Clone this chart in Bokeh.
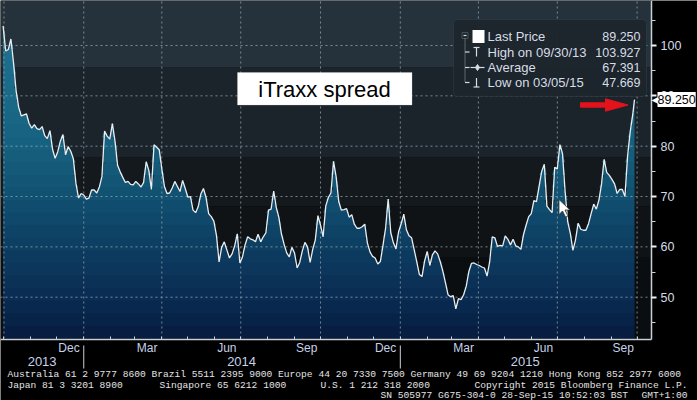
import numpy as np
import pandas as pd
from bokeh.plotting import figure
from bokeh.models import (FixedTicker, DatetimeTickFormatter, DatetimeAxis, LinearAxis, Label,
                          BoxAnnotation, Range1d)
from bokeh.embed import file_html
from bokeh.resources import INLINE

# ---------------- data ----------------
START_DATE = "2013-09-30"      # first observation, then every 3 days
STEP = "3D"
spread = [103.9, 98.9, 99.2, 101.3, 96.6, 91.0, 87.7, 86.0, 86.2, 86.4,
          84.5, 83.6, 84.3, 83.5, 83.3, 83.9, 82.1, 81.5, 83.1, 79.4,
          77.6, 78.9, 81.0, 82.3, 78.3, 79.9, 79.0, 77.5, 72.6, 69.7,
          70.6, 70.3, 69.5, 69.7, 71.3, 71.3, 70.7, 71.9, 74.0, 83.0,
          82.0, 81.4, 84.5, 81.0, 76.2, 74.9, 73.8, 72.8, 73.0, 72.4,
          72.3, 73.0, 72.5, 71.9, 72.8, 76.9, 75.2, 71.4, 80.3, 79.8,
          79.3, 75.5, 72.0, 70.6, 70.7, 71.7, 73.0, 72.0, 71.0, 73.2,
          71.6, 69.9, 70.0, 67.3, 66.8, 68.0, 70.5, 71.6, 69.8, 66.6,
          66.0, 65.1, 62.3, 57.0, 59.9, 61.0, 59.4, 57.8, 58.6, 60.2,
          62.6, 56.8, 58.0, 60.4, 62.0, 61.6, 61.4, 61.0, 62.5, 61.0,
          62.0, 62.8, 67.3, 67.5, 71.1, 67.8, 65.8, 62.5, 60.5, 58.8,
          58.0, 59.9, 58.8, 55.8, 56.9, 59.2, 60.9, 60.0, 56.9, 59.5,
          61.4, 66.2, 64.3, 62.0, 68.1, 69.8, 70.7, 77.0, 73.9, 69.0,
          67.3, 67.4, 67.6, 65.9, 66.4, 64.5, 63.7, 63.7, 64.0, 64.5,
          60.8, 59.0, 58.1, 57.8, 56.6, 57.1, 60.3, 63.7, 69.5, 62.8,
          60.8, 59.6, 63.0, 64.6, 66.5, 63.4, 62.2, 61.8, 59.4, 57.0,
          54.5, 54.1, 57.2, 59.1, 56.3, 58.4, 59.2, 58.6, 57.1, 55.2,
          52.9, 50.5, 50.1, 50.3, 47.7, 49.7, 49.5, 50.5, 52.2, 55.1,
          56.7, 56.8, 56.5, 56.3, 56.0, 55.8, 54.2, 57.0, 62.0, 61.8,
          60.1, 60.3, 60.2, 62.2, 61.5, 60.4, 61.5, 60.2, 60.0, 59.5,
          62.4, 64.3, 66.0, 66.6, 69.2, 69.0, 72.0, 75.0, 76.4, 68.1,
          67.4, 66.8, 75.8, 75.5, 80.3, 78.5, 71.0, 65.0, 62.7, 59.3,
          61.4, 64.7, 63.5, 63.3, 63.3, 64.6, 66.6, 68.5, 67.5, 69.3,
          72.5, 77.4, 74.8, 74.2, 73.4, 72.5, 70.6, 71.4, 71.4, 70.0,
          78.0, 82.8, 86.3]
LAST_DATE = "2015-09-28"
LAST_PRICE = 89.25

legend_names = ["Last Price", "High on 09/30/13", "Average", "Low on 03/05/15"]
legend_values = ["89.250", "103.927", "67.391", "47.669"]

y_ticks = [50, 60, 70, 80, 90, 100]
y_minor = [45, 55, 65, 75, 85, 95, 105]
month_label_dates = ["2013-12-15", "2014-03-15", "2014-06-15", "2014-09-15",
                     "2014-12-15", "2015-03-15", "2015-06-15", "2015-09-15"]
quarter_dates = ["2013-10-01", "2014-01-01", "2014-04-01", "2014-07-01", "2014-10-01",
                 "2015-01-01", "2015-04-01", "2015-07-01", "2015-10-01"]
year_label_dates = ["2013-11-14", "2014-07-02", "2015-05-25"]
year_start_dates = ["2014-01-01", "2015-01-01"]

footer1 = "Australia 61 2 9777 8600 Brazil 5511 2395 9000 Europe 44 20 7330 7500 Germany 49 69 9204 1210 Hong Kong 852 2977 6000"
footer2 = ["Japan 81 3 3201 8900", "Singapore 65 6212 1000", "U.S. 1 212 318 2000",
           "Copyright 2015 Bloomberg Finance L.P."]
footer3 = ["SN 505977 G675-304-0 28-Sep-15 10:52:03 BST", "GMT+1:00"]

# ---------------- helpers ----------------
def ms(d):
    return pd.Timestamp(d).value / 1e6

dates = list(pd.date_range(START_DATE, periods=len(spread), freq=STEP)) + [pd.Timestamp(LAST_DATE)]
values = np.array(spread + [LAST_PRICE])

W, H = 697, 400
X0 = ms("2013-09-27")
DAY_PX = 0.8673            # pixels per day
Y_TOP = 108.94             # value at top edge
UNIT_PX = 5.034            # pixels per spread unit

def dx(px):
    return X0 + px / DAY_PX * 86400000.0

def dy(py):
    return Y_TOP - py / UNIT_PX

X1 = dx(W)
Y0 = dy(H)
PLOT_R = dx(651)           # right edge of the chart area
BASE = dy(338)             # bottom of the chart area

p = figure(width=W, height=H, x_axis_type=None, y_axis_type=None,
           x_range=Range1d(X0, X1), y_range=Range1d(Y0, Y_TOP),
           output_backend="svg", toolbar_location=None,
           min_border_left=0, min_border_top=0, min_border_right=0, min_border_bottom=0)
p.outline_line_color = None
p.background_fill_color = "black"
p.border_fill_color = "black"
p.xgrid.visible = False
p.ygrid.visible = False

# background bands
bg_edges = [BASE, 58, 68, 77.75, 95.63, Y_TOP]
bg_colors = ["#0b0e10", "#0f1316", "#13191d", "#1b232b", "#25323b"]
p.quad(left=X0, right=PLOT_R, bottom=bg_edges[:-1], top=bg_edges[1:],
       fill_color=bg_colors, line_color=None)

# banded gradient area fill
stops_v = [42, 50, 60, 70, 80, 90, 100, 109]
stops_rgb = [(7, 28, 64), (10, 44, 82), (13, 62, 98), (17, 80, 112),
             (22, 96, 126), (26, 106, 136), (30, 112, 142), (33, 116, 146)]
edges = np.arange(BASE, 111, 2.5)
for lo, hi in zip(edges[:-1], edges[1:]):
    if lo > values.max():
        break
    mid = (lo + hi) / 2
    rgb = [int(round(np.interp(mid, stops_v, [c[i] for c in stops_rgb]))) for i in range(3)]
    col = "#%02x%02x%02x" % tuple(rgb)
    top = np.clip(values, lo, hi + 0.15)
    p.varea(x=dates, y1=np.full(len(values), lo), y2=top, fill_color=col)

# dotted grid (limited to the chart area)
GRID_COL = "#a0a8b0"
qx = [ms(d) for d in quarter_dates]
p.segment(x0=qx, x1=qx, y0=BASE, y1=Y_TOP, line_color=GRID_COL, line_alpha=0.75,
          line_dash="2 3", line_width=1)
p.segment(x0=X0, x1=PLOT_R, y0=y_ticks, y1=y_ticks, line_color=GRID_COL, line_alpha=0.75,
          line_dash="2 3", line_width=1)

p.line(dates, values, line_color="#e8eef2", line_width=1.3, level="overlay")

AX_COL = "#c8d0d8"
# right value axis, drawn at the right edge of the chart area
yax = LinearAxis(fixed_location=PLOT_R, bounds=(dy(339), Y_TOP))
yax.ticker = FixedTicker(ticks=y_ticks, minor_ticks=y_minor)
yax.axis_line_color = AX_COL
yax.axis_line_width = 1.5
yax.major_tick_out = 5
yax.major_tick_in = 0
yax.major_tick_line_width = 2
yax.major_tick_line_color = "#eef2f5"
yax.minor_tick_out = 4
yax.minor_tick_in = 0
yax.minor_tick_line_color = AX_COL
yax.major_label_standoff = 4
yax.major_label_text_color = "#d4dce8"
yax.major_label_text_font = "Liberation Sans"
yax.major_label_text_font_size = "12.5px"
p.add_layout(yax, "right")

# month axis
fmt_m = DatetimeTickFormatter(milliseconds="%b", seconds="%b", minsec="%b", minutes="%b",
                              hourmin="%b", hours="%b", days="%b", months="%b", years="%b")
xax = DatetimeAxis(fixed_location=dy(339), bounds=(X0, PLOT_R))
xax.ticker = FixedTicker(ticks=[ms(d) for d in month_label_dates],
                         minor_ticks=[ms(d) for d in pd.date_range("2013-10-01", "2015-10-01", freq="MS")])
xax.formatter = fmt_m
xax.axis_line_color = AX_COL
xax.axis_line_width = 1.5
xax.major_tick_out = 0
xax.major_tick_in = 0
xax.minor_tick_in = 3
xax.minor_tick_out = 0
xax.minor_tick_line_color = AX_COL
xax.major_label_standoff = 1
xax.major_label_text_color = "#c6d2e8"
xax.major_label_text_font = "Liberation Sans"
xax.major_label_text_font_size = "12px"
p.add_layout(xax, "below")

# year axis
fmt_y = DatetimeTickFormatter(milliseconds="%Y", seconds="%Y", minsec="%Y", minutes="%Y",
                              hourmin="%Y", hours="%Y", days="%Y", months="%Y", years="%Y")
yr = DatetimeAxis(fixed_location=dy(356), bounds=(X0, PLOT_R),
                  ticker=FixedTicker(ticks=[ms(d) for d in year_label_dates]),
                  formatter=fmt_y)
yr.axis_line_color = None
yr.major_tick_line_color = None
yr.major_tick_out = 0
yr.major_tick_in = 0
yr.minor_tick_line_color = None
yr.minor_tick_out = 0
yr.minor_tick_in = 0
yr.major_label_standoff = 0
yr.major_label_text_color = "#c6d2e8"
yr.major_label_text_font = "Liberation Sans"
yr.major_label_text_font_size = "13px"
p.add_layout(yr, "below")
ys = [ms(d) for d in year_start_dates]
p.segment(x0=ys, x1=ys, y0=dy(345), y1=dy(368), line_color=AX_COL, line_width=1)

# title box
p.add_layout(BoxAnnotation(left=dx(237), right=dx(411.5), top=dy(72), bottom=dy(104.5),
                           fill_color="white", fill_alpha=1, line_color="#cfcfcf", line_width=1))
p.add_layout(Label(x=dx(324), y=dy(88.5), text="iTraxx spread", text_align="center",
                   text_baseline="middle", text_font="Liberation Sans",
                   text_font_size="22px", text_color="black"))

# legend box
LEG_COL = "#d6dde4"
p.add_layout(BoxAnnotation(left=dx(453), right=dx(646), top=dy(19), bottom=dy(96),
                           fill_color="#1c252c", fill_alpha=0.95, line_color="#46525c",
                           line_width=1, border_radius=4))
row_y = [36, 51.5, 67, 82]
for name, val, ry in zip(legend_names, legend_values, row_y):
    p.add_layout(Label(x=dx(487), y=dy(ry), text=name, text_align="left", text_baseline="middle",
                       text_font="Liberation Sans", text_font_size="13px", text_color=LEG_COL))
    p.add_layout(Label(x=dx(640), y=dy(ry), text=val, text_align="right", text_baseline="middle",
                       text_font="Liberation Sans", text_font_size="12.5px", text_color=LEG_COL))
# legend symbols
p.add_layout(BoxAnnotation(left=dx(472), right=dx(484), top=dy(29.5), bottom=dy(42.5),
                           fill_color="white", fill_alpha=1, line_color=None))
p.add_layout(BoxAnnotation(left=dx(461.5), right=dx(467.5), top=dy(32), bottom=dy(38),
                           fill_alpha=0, line_color="#a0a8b0", line_width=1))
seg = [  # (x0, y0, x1, y1) in pixels
    (463, 35, 466, 35),
    (473, 47, 479, 47), (476, 47, 476, 56),
    (470, 67, 484, 67),
    (476, 77.5, 476, 86.5), (473, 86.5, 479, 86.5),
    (464.5, 51.5, 469, 51.5), (464.5, 67, 469, 67), (464.5, 82, 469, 82),
]
p.segment(x0=[dx(s[0]) for s in seg], y0=[dy(s[1]) for s in seg],
          x1=[dx(s[2]) for s in seg], y1=[dy(s[3]) for s in seg],
          line_color=LEG_COL, line_width=1.2, level="overlay")
p.segment(x0=[dx(464.5)], y0=[dy(38)], x1=[dx(464.5)], y1=[dy(82)],
          line_color="#a0a8b0", line_width=1, line_dash="1 1", level="overlay")
p.scatter(x=[dx(477)], y=[dy(67)], marker="diamond", size=6, fill_color=LEG_COL,
          line_color=LEG_COL, level="overlay")

# red arrow
arrow_px = [(580, 102.3), (605, 102.3), (605, 98.3), (627.5, 104.5),
            (605, 110.7), (605, 106.7), (580, 106.7)]
p.patch(x=[dx(a) for a, b in arrow_px], y=[dy(b) for a, b in arrow_px],
        fill_color="#e3121b", line_color="#e3121b", level="overlay")

# mouse pointer seen in the screenshot
cursor_px = [(558.5, 199), (558.5, 214), (562, 210.5), (565, 216.5), (567.5, 215.5),
             (564.5, 209.5), (569.5, 209.5)]
p.patch(x=[dx(a) for a, b in cursor_px], y=[dy(b) for a, b in cursor_px],
        fill_color="white", line_color="#333333", line_width=0.8, level="overlay")

# last price tag on the axis
p.add_layout(Label(x=dx(651), y=LAST_PRICE, text="\u25C0", text_align="left",
                   text_baseline="middle", text_font="DejaVu Sans", text_font_size="10px",
                   text_color="white"))
p.add_layout(Label(x=dx(657), y=LAST_PRICE, text="89.250", text_align="left",
                   text_baseline="middle", text_font="Liberation Sans", text_font_size="12.5px",
                   text_color="black", background_fill_color="white", padding=(0, 3)))

# footer
FOOT_FONT = "Liberation Mono"
FOOT_SIZE = "9.6px"
FOOT_COL = "#e4e4e4"
def foot(px, py, text, align="left"):
    p.add_layout(Label(x=dx(px), y=dy(py), text=text, text_align=align, text_baseline="middle",
                       text_font=FOOT_FONT, text_font_size=FOOT_SIZE, text_color=FOOT_COL))
foot(7, 374, footer1)
foot(7, 384.5, footer2[0])
foot(159, 384.5, footer2[1])
foot(320, 384.5, footer2[2])
foot(687, 384.5, footer2[3], "right")
foot(380, 394.5, footer3[0])
foot(687, 394.5, footer3[1], "right")

open("out.html", "w").write(file_html(p, INLINE))
